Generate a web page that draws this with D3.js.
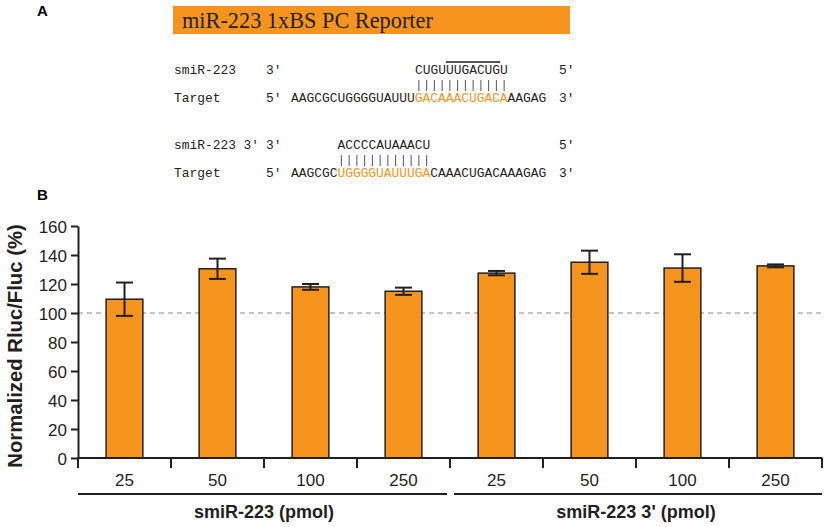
<!DOCTYPE html>
<html>
<head>
<meta charset="utf-8">
<script src="https://cdn.jsdelivr.net/npm/d3@7"></script>
<style>
  html, body { margin: 0; padding: 0; background: #fff; }
  svg { display: block; }
</style>
</head>
<body>
<div id="chart"></div>
<script>
// ── data ───────────────────────────────────────────────────────────────────
const bannerText = "miR-223 1xBS PC Reporter";
const probeNames = ["smiR-223", "smiR-223 3\u2032"];
const probeSeqs = ["CUGUUUGACUGU", "ACCCCAUAAACU"];
const targetSeq = "AAGCGCUGGGGUAUUUGACAAACUGACAAAGAG";
const siteStart = [16, 6];          // where each probe pairs on the target
const seedRange = [4, 10];          // overlined seed in smiR-223

const groups = ["smiR-223 (pmol)", "smiR-223 3' (pmol)"];
const doses = ["25", "50", "100", "250"];
const means = [109.5, 130.5, 118, 115, 127.5, 135, 131, 132.5];
const errors = [11.5, 7, 2, 2.5, 1.5, 8, 9.5, 1];
const yTicks = [0, 20, 40, 60, 80, 100, 120, 140, 160];

// ── layout ─────────────────────────────────────────────────────────────────
const W = 827, H = 527;
const ORANGE = "#f7941d", INK = "#231f20";
const SANS = "'Liberation Sans', Arial, sans-serif";
const MONO = "'Liberation Mono', 'Courier New', monospace";
const M = { left: 78, right: 822, top: 226, bottom: 458 };
const CW = 7.75;                    // mono char width
const SEQ_X = 291, NAME_X = 174, END_IN = 266, END_OUT = 559;
const probeY = [74, 149], targetY = [101.5, 177];

const svg = d3.select("#chart").append("svg")
  .attr("width", W).attr("height", H).attr("viewBox", `0 0 ${W} ${H}`);

// ── panel A ────────────────────────────────────────────────────────────────
svg.append("text").attr("x", 37).attr("y", 16).text("A")
  .attr("font-family", SANS).attr("font-weight", 700).attr("font-size", 15).attr("fill", "#000");

svg.append("rect").attr("x", 173).attr("y", 6).attr("width", 397).attr("height", 28).attr("fill", ORANGE);
svg.append("text").attr("x", 182).attr("y", 27.5).text(bannerText)
  .attr("font-family", "'Liberation Serif', 'Times New Roman', serif").attr("font-size", 22.3).attr("fill", INK);

const seqG = svg.append("g").attr("font-family", MONO).attr("font-size", 12.9).attr("fill", INK);

probeSeqs.forEach((seq, i) => {
  const py = probeY[i], ty = targetY[i];
  const px = SEQ_X + siteStart[i] * CW;

  seqG.append("text").attr("x", NAME_X).attr("y", py).text(probeNames[i]);
  seqG.append("text").attr("x", END_IN).attr("y", py).text("3\u2032");
  seqG.append("text").attr("x", px).attr("y", py).text(seq);
  seqG.append("text").attr("x", END_OUT).attr("y", py).text("5\u2032");

  // base pairing ticks
  seqG.selectAll(null).data(d3.range(seq.length)).join("line")
    .attr("x1", k => px + (k + 0.5) * CW).attr("x2", k => px + (k + 0.5) * CW)
    .attr("y1", py + 6).attr("y2", py + 17)
    .attr("stroke", "#555").attr("stroke-width", 1);

  seqG.append("text").attr("x", NAME_X).attr("y", ty).text("Target");
  seqG.append("text").attr("x", END_IN).attr("y", ty).text("5\u2032");
  const t = seqG.append("text").attr("x", SEQ_X).attr("y", ty);
  t.append("tspan").text(targetSeq.slice(0, siteStart[i]));
  t.append("tspan").attr("fill", ORANGE).text(targetSeq.slice(siteStart[i], siteStart[i] + seq.length));
  t.append("tspan").text(targetSeq.slice(siteStart[i] + seq.length));
  seqG.append("text").attr("x", END_OUT).attr("y", ty).text("3\u2032");

  if (i === 0) {
    seqG.append("line")
      .attr("x1", px + seedRange[0] * CW).attr("x2", px + (seedRange[1] + 1) * CW)
      .attr("y1", py - 12).attr("y2", py - 12)
      .attr("stroke", INK).attr("stroke-width", 1.6);
  }
});

// ── panel B ────────────────────────────────────────────────────────────────
svg.append("text").attr("x", 37).attr("y", 200).text("B")
  .attr("font-family", SANS).attr("font-weight", 700).attr("font-size", 15).attr("fill", "#000");

const slots = groups.flatMap(g => doses.map(d => `${g}|${d}`));
const x = d3.scaleBand().domain(slots).range([M.left, M.right]).padding(0);
const y = d3.scaleLinear().domain([0, 160]).range([M.bottom, M.top]);
const barW = x.bandwidth() * 0.395;

// dashed 100% reference
svg.append("line")
  .attr("x1", M.left).attr("x2", M.right).attr("y1", y(100)).attr("y2", y(100))
  .attr("stroke", "#8a8a8a").attr("stroke-width", 1.2).attr("stroke-dasharray", "5,4");

const bars = svg.append("g").selectAll("g").data(slots).join("g")
  .attr("transform", d => `translate(${x(d) + x.bandwidth() / 2},0)`);

bars.append("line")
  .attr("y1", (d, i) => y(means[i] + errors[i])).attr("y2", (d, i) => y(means[i] - errors[i]))
  .attr("stroke", INK).attr("stroke-width", 2);
bars.append("rect")
  .attr("x", -barW / 2).attr("width", barW)
  .attr("y", (d, i) => y(means[i])).attr("height", (d, i) => y(0) - y(means[i]))
  .attr("fill", ORANGE).attr("stroke", INK).attr("stroke-width", 1.5);
// the lower whisker shows through the bar
bars.append("line")
  .attr("y1", (d, i) => y(means[i])).attr("y2", (d, i) => y(means[i] - errors[i]))
  .attr("stroke", INK).attr("stroke-width", 2);
bars.each(function (d, i) {
  const g = d3.select(this);
  [means[i] + errors[i], means[i] - errors[i]].forEach(v => {
    g.append("line").attr("x1", -8.5).attr("x2", 8.5).attr("y1", y(v)).attr("y2", y(v))
      .attr("stroke", INK).attr("stroke-width", 2);
  });
});

// y axis
const yAxis = svg.append("g").attr("transform", `translate(${M.left},0)`)
  .call(d3.axisLeft(y).tickValues(yTicks).tickSize(7).tickSizeOuter(0).tickPadding(4));
yAxis.select(".domain").attr("stroke", INK).attr("stroke-width", 2);
yAxis.selectAll(".tick line").attr("stroke", INK).attr("stroke-width", 2);
yAxis.selectAll(".tick text").attr("font-family", SANS).attr("font-size", 17).attr("fill", INK).attr("dy", "0.36em");

// x axis: line plus slot boundary ticks
svg.append("line").attr("x1", M.left - 1).attr("x2", M.right).attr("y1", M.bottom).attr("y2", M.bottom)
  .attr("stroke", INK).attr("stroke-width", 2);
const edges = slots.map(d => x(d)).concat([M.right]);
svg.append("g").selectAll("line").data(edges).join("line")
  .attr("x1", d => d).attr("x2", d => d).attr("y1", M.bottom).attr("y2", M.bottom + 10)
  .attr("stroke", INK).attr("stroke-width", 2);
svg.append("g").selectAll("text").data(slots).join("text")
  .attr("x", d => x(d) + x.bandwidth() / 2).attr("y", 486)
  .attr("text-anchor", "middle").attr("font-family", SANS).attr("font-size", 17).attr("fill", INK)
  .text(d => d.split("|")[1]);

// group brackets
const groupSpan = g => {
  const own = slots.filter(s => s.startsWith(g + "|"));
  return [x(own[0]), x(own[own.length - 1]) + x.bandwidth()];
};
groups.forEach((g, i) => {
  const [a, b] = groupSpan(g);
  svg.append("line")
    .attr("x1", i === 0 ? a : a + 4).attr("x2", i === 0 ? b - 3 : b)
    .attr("y1", 494).attr("y2", 494).attr("stroke", INK).attr("stroke-width", 1.8);
  svg.append("text").attr("x", (a + b) / 2).attr("y", 518)
    .attr("text-anchor", "middle").attr("font-family", SANS).attr("font-weight", 700)
    .attr("font-size", 18).attr("fill", INK).text(g);
});

// y title
svg.append("text")
  .attr("transform", `translate(22,${(M.top + M.bottom) / 2 + 4}) rotate(-90)`)
  .attr("text-anchor", "middle").attr("font-family", SANS).attr("font-weight", 700)
  .attr("font-size", 20.3).attr("fill", INK).text("Normalized Rluc/Fluc (%)");
</script>
</body>
</html>
